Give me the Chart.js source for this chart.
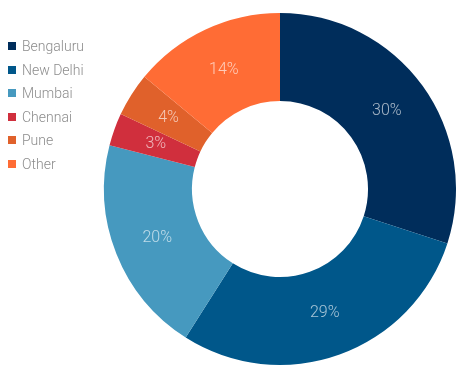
<!DOCTYPE html>
<html>
<head>
<meta charset="utf-8">
<script src="https://cdn.jsdelivr.net/npm/chart.js@4/dist/chart.umd.min.js"></script>
<style>
html,body{margin:0;padding:0;background:#fff;}
#wrap{position:relative;width:456px;height:368px;}
#legend{position:absolute;left:8px;top:38px;font-family:Roboto,"Noto Sans",sans-serif;font-size:14px;color:#8c8c8c;font-weight:300;}
#legend div{display:flex;align-items:center;height:16px;margin-bottom:7.5px;}
#legend span.sw{display:inline-block;width:8px;height:8px;margin-right:6px;}
</style>
</head>
<body>
<div id="wrap">
<canvas id="c" width="456" height="368"></canvas>
<div id="legend"></div>
</div>
<script>
const categories = ["Bengaluru", "New Delhi", "Mumbai", "Chennai", "Pune", "Other"];
const shares = [30, 29, 20, 3, 4, 14];
const colors = ["#002D5B", "#00578A", "#4699BF", "#D02F3D", "#E0612B", "#FF6C35"];

const legend = document.getElementById('legend');
categories.forEach((c, i) => {
  const d = document.createElement('div');
  d.innerHTML = '<span class="sw" style="background:' + colors[i] + '"></span>' + c;
  legend.appendChild(d);
});

const labelPlugin = {
  id: 'sliceLabels',
  afterDatasetsDraw(chart) {
    const ctx = chart.ctx;
    const meta = chart.getDatasetMeta(0);
    ctx.save();
    ctx.font = '300 16px Roboto, "Noto Sans", sans-serif';
    ctx.fillStyle = 'rgba(255,255,255,0.65)';
    ctx.textAlign = 'center';
    ctx.textBaseline = 'middle';
    meta.data.forEach((arc, i) => {
      const p = arc.tooltipPosition();
      ctx.fillText(shares[i] + '%', p.x, p.y);
    });
    ctx.restore();
  }
};

new Chart(document.getElementById('c'), {
  type: 'doughnut',
  data: {
    labels: categories,
    datasets: [{
      data: shares,
      backgroundColor: colors,
      borderWidth: 0
    }]
  },
  options: {
    responsive: false,
    animation: false,
    cutout: '50%',
    layout: { padding: { left: 104, right: 0, top: 12, bottom: 2 } },
    plugins: {
      legend: { display: false },
      tooltip: { enabled: false }
    }
  },
  plugins: [labelPlugin]
});
</script>
</body>
</html>
